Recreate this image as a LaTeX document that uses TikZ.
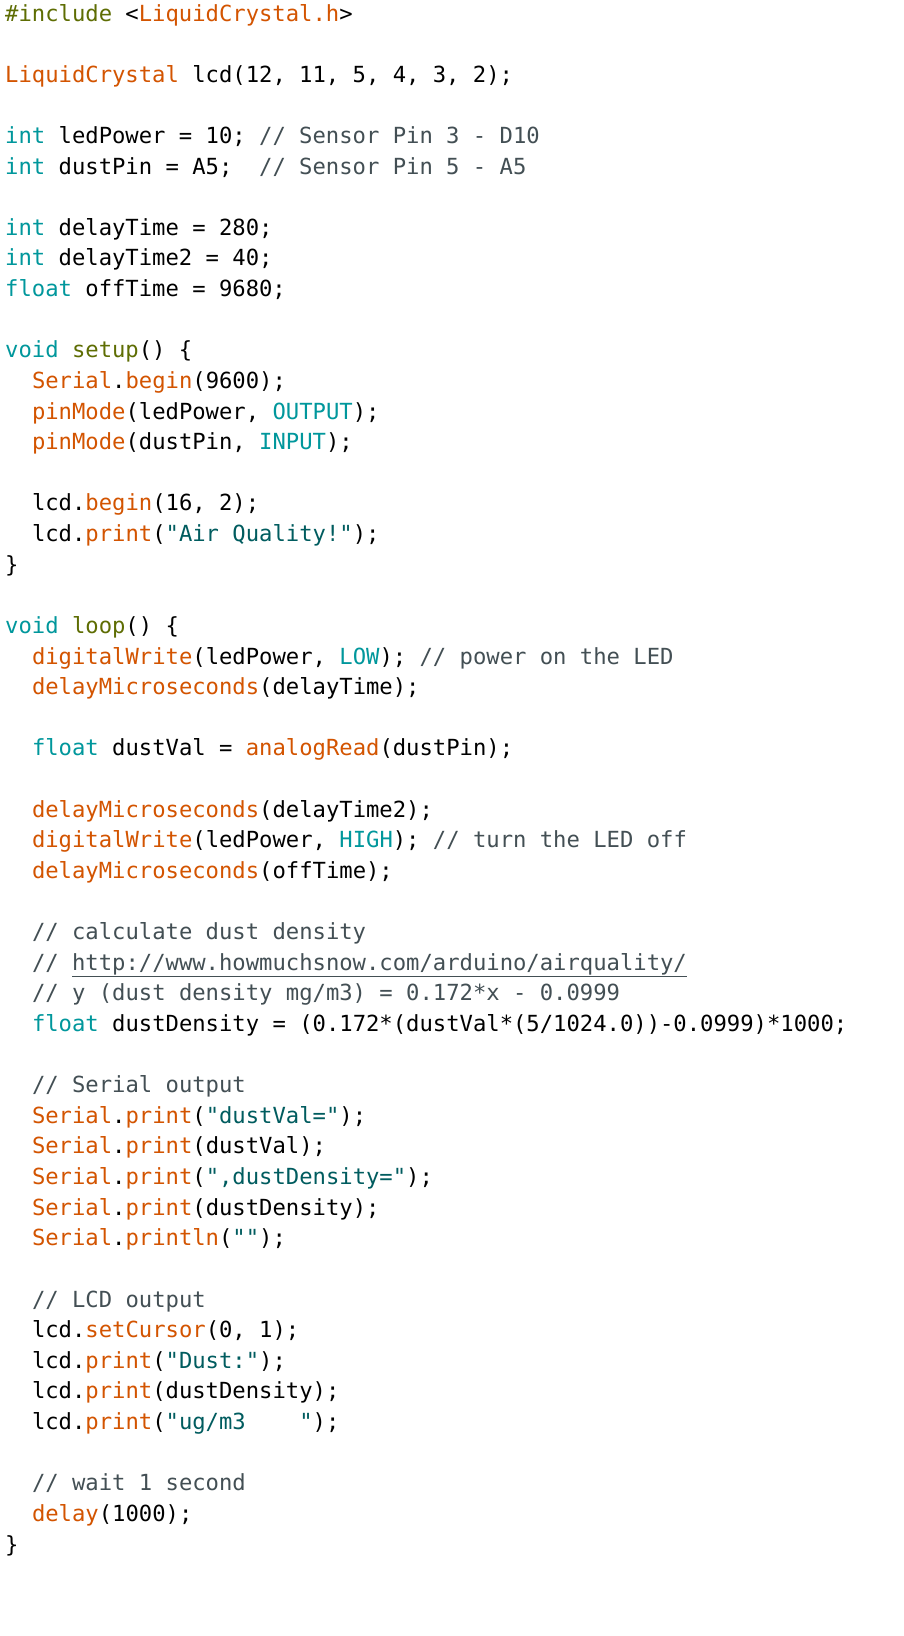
\documentclass[tikz,border=0pt]{standalone}
\usepackage{fontspec}
\newfontfamily\code{DejaVu Sans Mono}
\definecolor{kwc}{HTML}{00979C}
\definecolor{fnc}{HTML}{D35400}
\definecolor{olc}{HTML}{5E6D03}
\definecolor{stc}{HTML}{005C5F}
\definecolor{cmc}{HTML}{434F54}
\definecolor{txc}{HTML}{000000}
\newcommand\kw[1]{\textcolor{kwc}{#1}}
\newcommand\fn[1]{\textcolor{fnc}{#1}}
\newcommand\ol[1]{\textcolor{olc}{#1}}
\newcommand\st[1]{\textcolor{stc}{#1}}
\newcommand\cm[1]{\textcolor{cmc}{#1}}
\begin{document}
\begin{tikzpicture}[x=1pt,y=1pt,
  ln/.style={anchor=base west,inner sep=0pt,font=\code\fontsize{22.2}{26}\selectfont,text=txc}]
\useasboundingbox[fill=white] (0,0) rectangle (904,-1636);
\newcommand\codeline[3]{\node[ln] (l#1) at ({5+#2*13.4},{-(21+#1*30.62)}) {#3};}
\codeline{0}{0}{\ol{\#include} <\fn{LiquidCrystal.h}>}
\codeline{2}{0}{\fn{LiquidCrystal} lcd(12, 11, 5, 4, 3, 2);}
\codeline{4}{0}{\kw{int} ledPower = 10; \cm{// Sensor Pin 3 - D10}}
\codeline{5}{0}{\kw{int} dustPin = A5;\ \ \cm{// Sensor Pin 5 - A5}}
\codeline{7}{0}{\kw{int} delayTime = 280;}
\codeline{8}{0}{\kw{int} delayTime2 = 40;}
\codeline{9}{0}{\kw{float} offTime = 9680;}
\codeline{11}{0}{\kw{void} \ol{setup}() \{}
\codeline{12}{2}{\fn{Serial}.\fn{begin}(9600);}
\codeline{13}{2}{\fn{pinMode}(ledPower, \kw{OUTPUT});}
\codeline{14}{2}{\fn{pinMode}(dustPin, \kw{INPUT});}
\codeline{16}{2}{lcd.\fn{begin}(16, 2);}
\codeline{17}{2}{lcd.\fn{print}(\st{"Air Quality!"});}
\codeline{18}{0}{\}}
\codeline{20}{0}{\kw{void} \ol{loop}() \{}
\codeline{21}{2}{\fn{digitalWrite}(ledPower, \kw{LOW}); \cm{// power on the LED}}
\codeline{22}{2}{\fn{delayMicroseconds}(delayTime);}
\codeline{24}{2}{\kw{float} dustVal = \fn{analogRead}(dustPin);}
\codeline{26}{2}{\fn{delayMicroseconds}(delayTime2);}
\codeline{27}{2}{\fn{digitalWrite}(ledPower, \kw{HIGH}); \cm{// turn the LED off}}
\codeline{28}{2}{\fn{delayMicroseconds}(offTime);}
\codeline{30}{2}{\cm{// calculate dust density}}
\codeline{31}{2}{\cm{// \underline{http://www.howmuchsnow.com/arduino/airquality/}}}
\codeline{32}{2}{\cm{// y (dust density mg/m3) = 0.172*x - 0.0999}}
\codeline{33}{2}{\kw{float} dustDensity = (0.172*(dustVal*(5/1024.0))-0.0999)*1000;}
\codeline{35}{2}{\cm{// Serial output}}
\codeline{36}{2}{\fn{Serial}.\fn{print}(\st{"dustVal="});}
\codeline{37}{2}{\fn{Serial}.\fn{print}(dustVal);}
\codeline{38}{2}{\fn{Serial}.\fn{print}(\st{",dustDensity="});}
\codeline{39}{2}{\fn{Serial}.\fn{print}(dustDensity);}
\codeline{40}{2}{\fn{Serial}.\fn{println}(\st{""});}
\codeline{42}{2}{\cm{// LCD output}}
\codeline{43}{2}{lcd.\fn{setCursor}(0, 1);}
\codeline{44}{2}{lcd.\fn{print}(\st{"Dust:"});}
\codeline{45}{2}{lcd.\fn{print}(dustDensity);}
\codeline{46}{2}{lcd.\fn{print}(\st{"ug/m3\ \ \ \ "});}
\codeline{48}{2}{\cm{// wait 1 second}}
\codeline{49}{2}{\fn{delay}(1000);}
\codeline{50}{0}{\}}
\end{tikzpicture}
\end{document}
